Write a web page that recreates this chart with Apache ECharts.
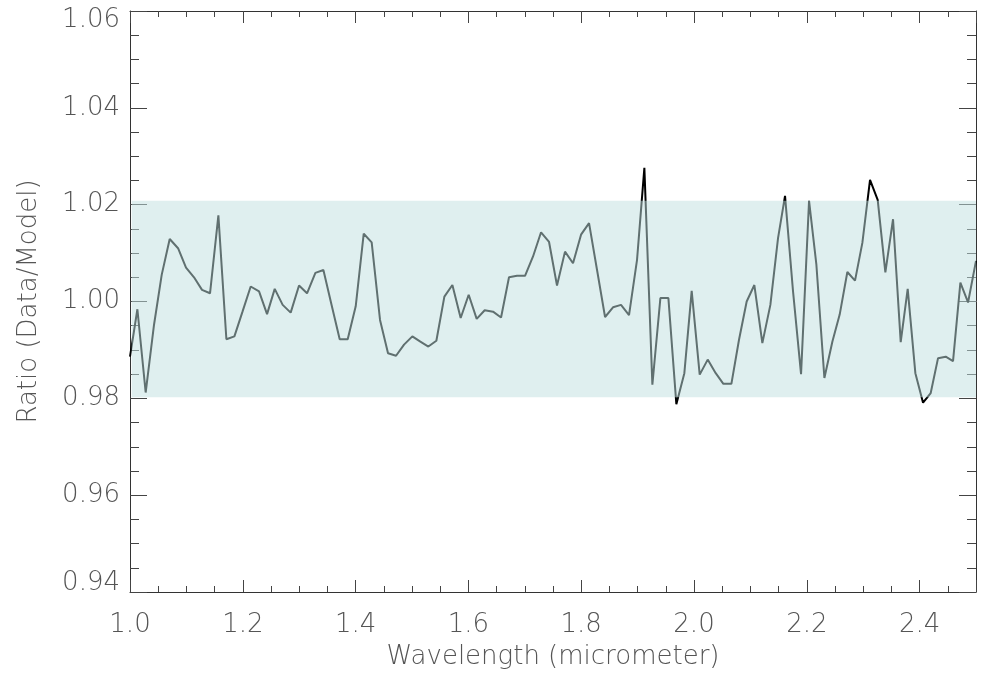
<!DOCTYPE html>
<html lang="en">

<head>
    <title>Ratio (Data/Model)</title>
    <meta charset="UTF-8">
    <script src="https://cdn.jsdelivr.net/npm/echarts@6/dist/echarts.min.js"></script>
    <style>
        html, body { margin: 0; padding: 0; background: #fff; }
    </style>
</head>

<body>
    <div id="main" style="width: 981px;height:675px;"></div>
    <script>
        // wavelength (micrometer)
        var wavelength = [
            1.0000, 1.0131, 1.0278, 1.0426, 1.0562, 1.0704, 1.0852, 1.0993, 1.1135, 1.1277,
            1.1419, 1.1567, 1.1709, 1.1851, 1.1992, 1.2140, 1.2288, 1.2430, 1.2566, 1.2707,
            1.2849, 1.2997, 1.3139, 1.3287, 1.3429, 1.3570, 1.3718, 1.3860, 1.4002, 1.4144,
            1.4285, 1.4433, 1.4575, 1.4717, 1.4859, 1.5006, 1.5148, 1.5290, 1.5432, 1.5574,
            1.5716, 1.5863, 1.6005, 1.6147, 1.6289, 1.6437, 1.6579, 1.6720, 1.6862, 1.7004,
            1.7146, 1.7288, 1.7430, 1.7571, 1.7713, 1.7855, 1.7997, 1.8139, 1.8281, 1.8423,
            1.8564, 1.8706, 1.8848, 1.8990, 1.9120, 1.9262, 1.9404, 1.9546, 1.9687, 1.9829,
            1.9959, 2.0101, 2.0243, 2.0385, 2.0521, 2.0663, 2.0798, 2.0934, 2.1070, 2.1212,
            2.1354, 2.1490, 2.1614, 2.1756, 2.1898, 2.2040, 2.2170, 2.2312, 2.2453, 2.2583,
            2.2719, 2.2855, 2.2985, 2.3121, 2.3257, 2.3393, 2.3529, 2.3665, 2.3789, 2.3925,
            2.4061, 2.4197, 2.4327, 2.4463, 2.4593, 2.4723, 2.4859, 2.5000
        ];

        // ratio data / model
        var ratio = [
            0.9886, 0.9984, 0.9812, 0.9952, 1.0055, 1.0129, 1.0110, 1.0070, 1.0050, 1.0024,
            1.0017, 1.0178, 0.9922, 0.9928, 0.9978, 1.0031, 1.0021, 0.9974, 1.0026, 0.9993,
            0.9977, 1.0033, 1.0017, 1.0059, 1.0065, 0.9995, 0.9922, 0.9922, 0.9990, 1.0140,
            1.0122, 0.9962, 0.9893, 0.9888, 0.9911, 0.9928, 0.9917, 0.9907, 0.9919, 1.0010,
            1.0034, 0.9966, 1.0014, 0.9964, 0.9982, 0.9979, 0.9967, 1.0050, 1.0053, 1.0053,
            1.0093, 1.0143, 1.0123, 1.0033, 1.0103, 1.0079, 1.0138, 1.0162, 1.0065, 0.9968,
            0.9988, 0.9993, 0.9972, 1.0086, 1.0276, 0.9828, 1.0007, 1.0007, 0.9788, 0.9852,
            1.0022, 0.9849, 0.9880, 0.9852, 0.9830, 0.9830, 0.9921, 1.0000, 1.0034, 0.9914,
            0.9993, 1.0131, 1.0218, 1.0021, 0.9850, 1.0208, 1.0076, 0.9842, 0.9917, 0.9973,
            1.0061, 1.0043, 1.0121, 1.0251, 1.0210, 1.0060, 1.0170, 0.9916, 1.0026, 0.9852,
            0.9791, 0.9811, 0.9883, 0.9886, 0.9877, 1.0039, 0.9998, 1.0084
        ];

        // shaded band (lower, upper)
        var band = [0.9802, 1.0208];

        var xTicks = { min: 1.0, max: 2.5, step: 0.2 };
        var yTicks = { min: 0.94, max: 1.06, step: 0.02 };

        var fontName = 'DejaVu Sans';
        var textGrey = '#555';

        var points = wavelength.map(function (w, i) { return [w, ratio[i]]; });

        function xAxisCfg(pos, showLabels) {
            return {
                type: 'value',
                position: pos,
                min: xTicks.min,
                max: xTicks.max,
                interval: xTicks.step,
                splitLine: { show: false },
                axisLine: { show: true, onZero: false, lineStyle: { color: '#333', width: 1 } },
                axisTick: { show: true, inside: true, length: 12, lineStyle: { color: '#444' } },
                minorTick: { show: true, splitNumber: 4, length: 6, lineStyle: { color: '#444' } },
                axisLabel: {
                    show: showLabels,
                    showMaxLabel: false,
                    margin: 20,
                    color: textGrey,
                    fontFamily: fontName,
                    fontWeight: 200,
                    fontSize: 26,
                    formatter: function (v) { return v.toFixed(1); }
                }
            };
        }

        function yAxisCfg(pos, showLabels) {
            var lbl = { color: textGrey, fontFamily: fontName, fontWeight: 200, fontSize: 26 };
            return {
                type: 'value',
                position: pos,
                min: yTicks.min,
                max: yTicks.max,
                interval: yTicks.step,
                splitLine: { show: false },
                axisLine: { show: true, onZero: false, lineStyle: { color: '#333', width: 1 } },
                axisTick: { show: true, inside: true, length: 17, lineStyle: { color: '#444' } },
                minorTick: { show: true, splitNumber: 4, length: 9, lineStyle: { color: '#444' } },
                axisLabel: {
                    show: showLabels,
                    margin: 10,
                    color: textGrey,
                    fontFamily: fontName,
                    fontWeight: 200,
                    fontSize: 26,
                    formatter: function (v) {
                        var s = v.toFixed(2);
                        if (Math.abs(v - yTicks.max) < 1e-9) return '{top|' + s + '}';
                        if (Math.abs(v - yTicks.min) < 1e-9) return '{bot|' + s + '}';
                        return s;
                    },
                    rich: {
                        top: Object.assign({ padding: [18, 0, 0, 0] }, lbl),
                        bot: Object.assign({ padding: [0, 0, 18, 0] }, lbl)
                    }
                }
            };
        }

        var xBottom = xAxisCfg('bottom', true);
        xBottom.name = 'Wavelength (micrometer)';
        xBottom.nameLocation = 'middle';
        xBottom.nameGap = 52;
        xBottom.nameTextStyle = { color: textGrey, fontFamily: fontName, fontWeight: 200, fontSize: 26 };

        var yLeft = yAxisCfg('left', true);
        yLeft.name = 'Ratio (Data/Model)';
        yLeft.nameLocation = 'middle';
        yLeft.nameGap = 88;
        yLeft.nameTextStyle = { color: textGrey, fontFamily: fontName, fontWeight: 200, fontSize: 26 };

        var myChart = echarts.init(document.getElementById('main'), null, { renderer: 'canvas' });

        var option = {
            backgroundColor: '#fff',
            animation: false,
            grid: { left: 130, right: 5, top: 11, bottom: 83, outerBoundsMode: 'none', containLabel: false },
            xAxis: [xBottom, xAxisCfg('top', false)],
            yAxis: [yLeft, yAxisCfg('right', false)],
            series: [
                {
                    type: 'line',
                    data: points,
                    showSymbol: false,
                    z: 2,
                    lineStyle: { color: '#000', width: 2 }
                },
                {
                    // band drawn on top of the line, half transparent
                    type: 'line',
                    data: [],
                    z: 5,
                    silent: true,
                    markArea: {
                        silent: true,
                        z: 10,
                        itemStyle: { color: 'rgba(192,224,224,0.5)' },
                        data: [[
                            { xAxis: xTicks.min + 0.003, yAxis: band[0] },
                            { xAxis: xTicks.max, yAxis: band[1] }
                        ]]
                    }
                }
            ]
        };

        myChart.setOption(option);
    </script>
</body>

</html>
